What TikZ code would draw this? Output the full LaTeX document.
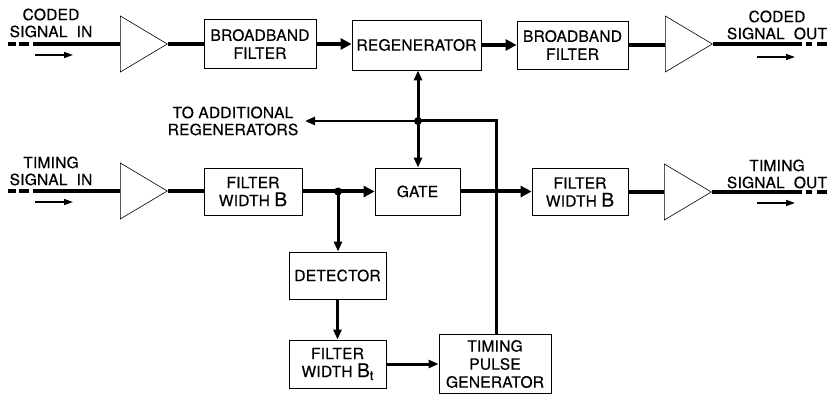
\documentclass[tikz,border=0pt]{standalone}
\usepackage{fontspec}
\setmainfont{TeX Gyre Heros}[LetterSpace=1.5,FakeBold=0.5]
\usetikzlibrary{positioning,arrows.meta,shapes.geometric}

\tikzset{
  blk/.style={draw, line width=0.8pt, inner sep=0pt, align=center,
    font=\fontsize{15.5}{18}\selectfont},
  amp/.style={draw, line width=0.6pt, isosceles triangle,
    isosceles triangle stretches, inner sep=0pt,
    minimum width=56pt, minimum height=47pt, anchor=lower side},
  lbl/.style={align=center, inner sep=0pt, font=\fontsize{15.5}{17}\selectfont},
  sig/.style={line width=4pt},
  flow/.style={line width=4pt, -{Triangle[length=11pt,width=11pt]}},
  ctl/.style={line width=3pt, -{Triangle[length=10pt,width=8pt]}},
  hint/.style={line width=1.5pt, -{Triangle[length=9pt,width=6pt]}},
  jdot/.style={circle, fill, inner sep=0pt, minimum size=8pt},
}
\newcommand{\bigB}{{\fontsize{19}{17}\selectfont B}}
\newcommand{\subt}{\raisebox{-3pt}{\fontsize{13}{13}\selectfont t}}

\begin{document}
\begin{tikzpicture}[x=1pt,y=-1pt]
  \useasboundingbox (0,0) rectangle (827,395);

  % coded signal path
  \node[amp] (amp1) at (120,44) {};
  \node[blk, minimum width=112pt, minimum height=49pt] (bbf1) at (260,44) {BROADBAND\\FILTER};
  \node[blk, minimum width=129pt, minimum height=50pt] (regen) at (416.5,45) {REGENERATOR};
  \node[blk, minimum width=111pt, minimum height=48pt] (bbf2) at (572.5,45) {BROADBAND\\FILTER};
  \node[amp] (amp2) at (665,44) {};

  % timing signal path
  \node[amp] (amp3) at (120,191) {};
  \node[blk, minimum width=98pt, minimum height=47pt] (fwb1) at (253,191.5) {FILTER\\WIDTH \bigB};
  \node[blk, minimum width=85pt, minimum height=47pt] (gate) at (417.5,191.5) {GATE};
  \node[blk, minimum width=96pt, minimum height=47pt] (fwb2) at (580,192) {FILTER\\WIDTH \bigB};
  \node[amp] (amp4) at (664,192) {};
  \node[blk, minimum width=97pt, minimum height=47pt] (det) at (337.5,275.5) {DETECTOR};
  \node[blk, minimum width=97pt, minimum height=48pt] (fbt) at (337.5,364) {FILTER\\WIDTH \bigB\subt};
  \node[blk, minimum width=112pt, minimum height=59pt] (tpg) at (495,364) {TIMING\\PULSE\\GENERATOR};

  % labels
  \node[lbl] (cin) at (51,23) {CODED\\SIGNAL\ \ IN};
  \node[lbl] (cout) at (777,25) {CODED\\SIGNAL\ \ OUT};
  \node[lbl] (tin) at (51,171) {TIMING\\SIGNAL\ \ IN};
  \node[lbl] (tout) at (777,174) {TIMING\\SIGNAL\ \ OUT};
  \node[lbl] (more) at (233,121) {TO ADDITIONAL\\REGENERATORS};

  % line ends
  \coordinate (cinend) at (8,44);
  \coordinate (cinstart) at (33,44);
  \coordinate (coutstart) at (802,44);
  \coordinate (coutend) at (806,44);
  \coordinate (tinend) at (8,191);
  \coordinate (tinstart) at (33,191);
  \coordinate (toutstart) at (802,192);
  \coordinate (toutend) at (806,192);
  \coordinate (j1) at (418,121);
  \coordinate (j2) at (338,191.5);
  \coordinate (tap) at (496,121);
  \coordinate (moretip) at (305,121);

  % coded connections
  \draw[sig, dash pattern=on 8pt off 3pt on 10pt off 4pt] (cinend) -- (cinstart);
  \draw[sig] (cinstart) -- (amp1.lower side);
  \draw[sig] (amp1.apex) -- (bbf1.west);
  \draw[flow] (bbf1.east) -- (regen.west |- bbf1.east);
  \draw[flow] (regen.east) -- (bbf2.west |- regen.east);
  \draw[sig] (bbf2.east) -- (amp2.lower side |- bbf2.east);
  \draw[sig] (amp2.apex) -- (coutstart);
  \draw[sig, dash pattern=on 6pt off 5pt on 10pt off 4pt] (coutend) -- +(21,0);

  % timing connections
  \draw[sig, dash pattern=on 8pt off 3pt on 10pt off 4pt] (tinend) -- (tinstart);
  \draw[sig] (tinstart) -- (amp3.lower side);
  \draw[sig] (amp3.apex) -- (fwb1.west |- amp3.apex);
  \draw[flow] (fwb1.east) -- (gate.west);
  \draw[flow] (gate.east) -- (fwb2.west |- gate.east);
  \draw[sig] (fwb2.east) -- (amp4.lower side |- fwb2.east);
  \draw[sig] (amp4.apex) -- (toutstart);
  \draw[sig, dash pattern=on 6pt off 5pt on 10pt off 4pt] (toutend) -- +(21,0);

  % regenerator and timing pulse feedback
  \draw[ctl, {Triangle[length=10pt,width=8pt]}-{Triangle[length=10pt,width=8pt]}]
    (j1 |- regen.south) -- (j1 |- gate.north);
  \draw[line width=3pt] (tpg.north -| tap) -- (tap) -- (j1);
  \draw[ctl, line width=2.6pt] (j1) -- (moretip);
  \draw[ctl] (j2) -- (j2 |- det.north);
  \draw[ctl] (det.south) -- (fbt.north);
  \draw[ctl] (fbt.east) -- (tpg.west);
  \node[jdot] (dot1) at (j1) {};
  \node[jdot] (dot2) at (j2) {};

  % direction of travel
  \draw[hint] (35,55) -- +(38,0);
  \draw[hint] (757,57) -- +(38,0);
  \draw[hint] (35,202) -- +(38,0);
  \draw[hint] (757,203) -- +(38,0);
\end{tikzpicture}
\end{document}
